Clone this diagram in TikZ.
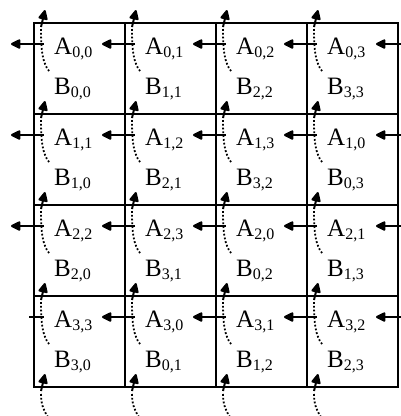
\documentclass[tikz,border=0pt]{standalone}
\usepackage{fontspec}
\setmainfont{Liberation Serif}
\usetikzlibrary{calc,arrows.meta}
\tikzset{
  cell/.style={draw, line width=2pt, minimum size=91pt, inner sep=0pt, outer sep=0pt},
  lab/.style={anchor=base west, inner sep=0pt, font=\fontsize{25}{28}\selectfont},
  harrow/.style={line width=2.2pt, arrows={-Triangle[length=11pt,width=10pt,round]}},
  varrow/.style={line width=2pt, arrows={-Triangle[length=11pt,width=10pt,round]}},
  dotpath/.style={line width=1.8pt, dotted}
}
\newcommand{\sbs}[1]{\textsubscript{\fontsize{16}{17}\selectfont #1}}
\begin{document}
\begin{tikzpicture}[x=1pt,y=-1pt]
\useasboundingbox (0,0) rectangle (401,416);
\foreach \i in {0,...,3}{
  \foreach \j in {0,...,3}{
    \pgfmathtruncatemacro{\aj}{mod(\i+\j,4)}
    \node[cell] (c-\i-\j) at ({34+91*\j+45.5},{23+91*\i+45.5}) {};
    \node[lab] (a-\i-\j) at ($(c-\i-\j.north west)+(20,31)$) {A\sbs{\i,\aj}};
    \node[lab] (b-\i-\j) at ($(c-\i-\j.north west)+(20,71)$) {B\sbs{\aj,\j}};
  }
}
% horizontal A shifts
\foreach \i in {0,...,3}{
  \foreach \j in {0,...,3}{
    \ifnum\i=3 \ifnum\j=0
      \draw[line width=1.8pt] ($(c-\i-\j.north west)+(-5,21)$) -- ($(c-\i-\j.north west)+(10,21)$);
    \else
      \draw[harrow] ($(c-\i-\j.north west)+(10,21)$) -- ($(c-\i-\j.north west)+(-23,21)$);
    \fi
    \else
      \draw[harrow] ($(c-\i-\j.north west)+(10,21)$) -- ($(c-\i-\j.north west)+(-23,21)$);
    \fi
  }
  \draw[harrow] ($(c-\i-3.north east)+(10,21)$) -- ($(c-\i-3.north east)+(-22,21)$);
}
% vertical B shifts
\foreach \i in {0,...,3}{
  \foreach \j in {0,...,3}{
    \draw[varrow] ($(c-\i-\j.north west)+(7,4)$) -- ($(c-\i-\j.north west)+(11,-13)$);
    \draw[dotpath] ($(c-\i-\j.north west)+(7,6)$) .. controls ($(c-\i-\j.north west)+(7,30)$) and ($(c-\i-\j.north west)+(9,40)$) .. ($(c-\i-\j.north west)+(15,48)$);
  }
}
\foreach \j in {0,...,3}{
  \draw[varrow] ($(c-3-\j.south west)+(7,4)$) -- ($(c-3-\j.south west)+(11,-13)$);
  \draw[dotpath] ($(c-3-\j.south west)+(7,7)$) .. controls ($(c-3-\j.south west)+(7,18)$) and ($(c-3-\j.south west)+(10,24)$) .. ($(c-3-\j.south west)+(14,30)$);
}
\end{tikzpicture}
\end{document}
